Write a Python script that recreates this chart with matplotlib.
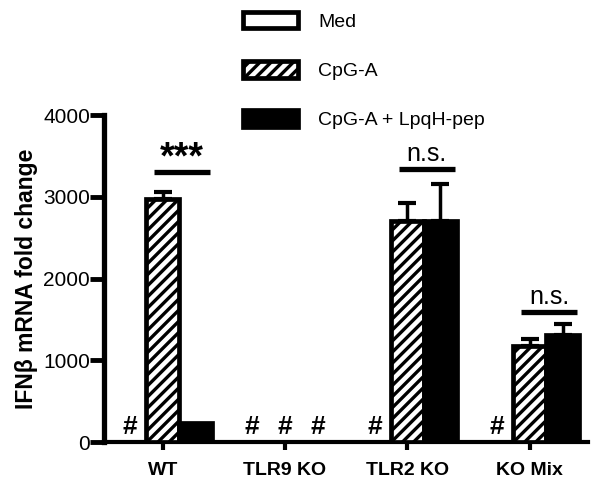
import matplotlib
matplotlib.use("Agg")
import matplotlib.pyplot as plt
import numpy as np

plt.rcParams["font.family"] = ["Liberation Sans", "DejaVu Sans"]
plt.rcParams["hatch.linewidth"] = 2.4

# values (0 = not detected, marked with #)
groups = ["WT", "TLR9 KO", "TLR2 KO", "KO Mix"]
med = [0, 0, 0, 0]
cpg = [2970, 0, 2710, 1180]
cpg_err = [90, 0, 210, 80]
lpqh = [240, 0, 2710, 1310]
lpqh_err = [0, 0, 445, 130]
series_names = ["Med", "CpG-A", "CpG-A + LpqH-pep"]

# significance marks: group index, bar height, label
sig_groups = [0, 2, 3]
sig_levels = [3300, 3340, 1590]
sig_labels = ["***", "n.s.", "n.s."]

fig = plt.figure(figsize=(6.01, 4.88), dpi=100)
ax = fig.add_axes([0.173, 0.094, 0.805, 0.670])

x = np.arange(len(groups))
w = 0.27
series = [(med, None, "white", ""), (cpg, cpg_err, "white", "///"), (lpqh, lpqh_err, "black", "")]
handles = []
for i, (vals, errs, color, hatch) in enumerate(series):
    pos = x + (i - 1) * w
    vals = np.array(vals, dtype=float)
    shown = np.where(vals > 0, vals, np.nan)
    bars = ax.bar(pos, shown, width=w, color=color, edgecolor="black",
                  linewidth=3.4, hatch=hatch, zorder=3)
    handles.append(bars)
    if errs is not None:
        errs = np.array(errs, dtype=float)
        keep = (vals > 0) & (errs > 0)
        ax.errorbar(pos[keep], vals[keep], yerr=[np.zeros(keep.sum()), errs[keep]],
                    fmt="none", ecolor="black", elinewidth=2.5, capsize=6.5,
                    capthick=3, zorder=2)
    # not detected -> '#'
    for p, v in zip(pos, vals):
        if v == 0:
            ax.annotate("#", (p, 0), xytext=(0, 2.5), textcoords="offset points",
                        ha="center", va="bottom", fontsize=19, fontweight="bold")

for g, level, label in zip(sig_groups, sig_levels, sig_labels):
    ax.plot([g - 0.07, g + 0.39], [level, level], color="black", lw=3.8,
            solid_capstyle="butt", clip_on=False)
    if label == "***":
        ax.annotate(label, (g + 0.16, level), xytext=(0, -3), textcoords="offset points",
                    ha="center", va="bottom", fontsize=27, fontweight="bold")
    else:
        ax.annotate(label, (g + 0.16, level), xytext=(0, 2), textcoords="offset points",
                    ha="center", va="bottom", fontsize=18)

ax.set_xlim(-0.48, 3.475)
ax.set_ylim(0, 4000)
ax.set_yticks([0, 1000, 2000, 3000, 4000])
ax.set_xticks(x)
ax.set_xticklabels(groups, fontsize=14, fontweight="bold")
ax.tick_params(axis="y", labelsize=15, width=3.5, length=10, pad=0)
ax.tick_params(axis="x", width=3, length=6, pad=8)
ax.set_ylabel("IFN\u03b2 mRNA fold change", fontsize=16.5, fontweight="bold", labelpad=4)
for s in ["top", "right"]:
    ax.spines[s].set_visible(False)
ax.spines["left"].set_linewidth(3.8)
ax.spines["bottom"].set_linewidth(3)

leg = ax.legend(handles, series_names, loc="upper left", bbox_to_anchor=(0.385, 1.0),
                bbox_transform=fig.transFigure, frameon=False, fontsize=14,
                handlelength=2.85, handleheight=0.95, labelspacing=1.55, handletextpad=1.0,
                borderaxespad=0.2)

fig.savefig("out.png", dpi=100)
